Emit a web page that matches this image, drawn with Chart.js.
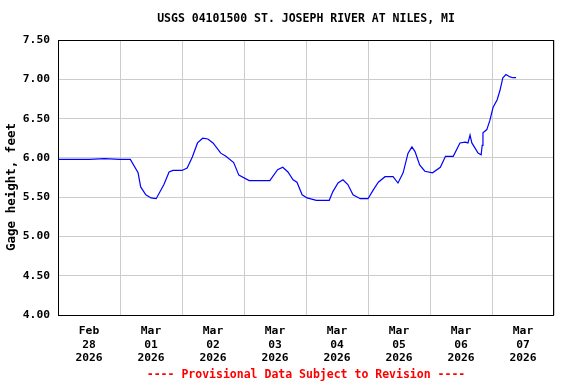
<!DOCTYPE html>
<html>
<head>
<meta charset="utf-8">
<script src="https://cdn.jsdelivr.net/npm/chart.js@4/dist/chart.umd.min.js"></script>
<style>
html,body{margin:0;padding:0;background:#fff;}
#wrap{width:576px;height:384px;position:relative;}
</style>
</head>
<body>
<div id="wrap"><canvas id="c" width="576" height="384"></canvas></div>
<script>
// Hours since 2026-02-28 00:00
const hours = [0, 12, 18, 24, 28, 31, 32, 34, 36, 38, 41, 43, 44.5, 48, 50, 52, 54, 56, 58, 60,
  63, 65, 68, 70, 74, 82, 85, 87, 89, 91, 92.5, 94.5, 96.4, 100, 105, 106.4, 108.4, 110.3, 112.2, 114.2,
  117, 120, 122, 124, 126.6, 129.7, 131.6, 133.6, 135.5, 137, 138.2, 140, 142, 145, 148, 150, 153, 155.6,
  157.6, 158.7, 159.5, 160.2, 162.6, 163.8, 164.2, 164.5, 166, 167.2, 168.4, 170, 171.1, 172.2, 173.4, 175, 176.1, 177.3];
const gageHeight = [5.98, 5.98, 5.99, 5.98, 5.98, 5.81, 5.63, 5.53, 5.49, 5.48, 5.66, 5.82, 5.84, 5.84, 5.87, 6.01, 6.19, 6.25, 6.24, 6.19,
  6.06, 6.02, 5.94, 5.78, 5.71, 5.71, 5.85, 5.88, 5.82, 5.72, 5.69, 5.53, 5.49, 5.46, 5.46, 5.57, 5.68, 5.72, 5.66, 5.53,
  5.48, 5.48, 5.59, 5.69, 5.76, 5.76, 5.68, 5.81, 6.06, 6.14, 6.08, 5.91, 5.83, 5.81, 5.88, 6.02, 6.02, 6.19,
  6.20, 6.19, 6.29, 6.19, 6.06, 6.04, 6.16, 6.32, 6.36, 6.48, 6.64, 6.74, 6.86, 7.02, 7.06, 7.03, 7.02, 7.02];
const tickMonths = ['Feb', 'Mar', 'Mar', 'Mar', 'Mar', 'Mar', 'Mar', 'Mar'];
const tickDays = ['28', '01', '02', '03', '04', '05', '06', '07'];
const tickYears = ['2026', '2026', '2026', '2026', '2026', '2026', '2026', '2026'];
const yTicks = [4.00, 4.50, 5.00, 5.50, 6.00, 6.50, 7.00, 7.50];
const titleText = 'USGS 04101500 ST. JOSEPH RIVER AT NILES, MI';
const footerText = '---- Provisional Data Subject to Revision ----';
const yTitle = 'Gage height, feet';

const FONT = '"DejaVu Sans Mono", "Liberation Mono", monospace';

const points = hours.map((h, i) => ({x: h, y: gageHeight[i]}));

const framePlugin = {
  id: 'frame',
  afterDraw(chart) {
    const ctx = chart.ctx, ca = chart.chartArea;
    ctx.save();
    ctx.strokeStyle = '#000';
    ctx.lineWidth = 1;
    ctx.strokeRect(Math.round(ca.left) + 0.5, Math.round(ca.top) + 0.5,
      Math.round(ca.right - ca.left) - 1, Math.round(ca.bottom - ca.top));
    const cx = (ca.left + ca.right) / 2;
    ctx.textAlign = 'center';
    ctx.textBaseline = 'middle';
    ctx.font = 'bold 11.5px ' + FONT;
    ctx.fillStyle = '#000';
    ctx.fillText(titleText, cx, 19);
    ctx.fillStyle = '#ff0000';
    ctx.fillText(footerText, cx, 375);
    ctx.save();
    ctx.translate(12, 187);
    ctx.rotate(-Math.PI / 2);
    ctx.fillStyle = '#000';
    ctx.font = 'bold 12.5px ' + FONT;
    ctx.fillText(yTitle, 0, 0);
    ctx.restore();
    ctx.restore();
  }
};

new Chart(document.getElementById('c'), {
  type: 'line',
  data: {
    datasets: [{
      data: points,
      borderColor: '#0000ff',
      borderWidth: 1.2,
      pointRadius: 0,
      tension: 0,
      fill: false
    }]
  },
  options: {
    responsive: false,
    animation: false,
    devicePixelRatio: 1,
    layout: {padding: {top: 40, right: 22, left: 0, bottom: 0}},
    plugins: {legend: {display: false}, tooltip: {enabled: false}, title: {display: false}},
    scales: {
      x: {
        type: 'linear',
        min: 0,
        max: 192,
        afterBuildTicks(axis) {
          const t = [];
          for (let i = 0; i <= 16; i++) t.push({value: i * 12});
          axis.ticks = t;
        },
        afterFit(axis) { axis.height = 69; },
        ticks: {
          autoSkip: false,
          maxRotation: 0,
          minRotation: 0,
          padding: 10,
          color: '#000',
          font: {family: FONT, size: 11.3, weight: 'bold', lineHeight: 1.16},
          callback(v) {
            if (v % 24 === 12) {
              const k = Math.floor(v / 24);
              return [tickMonths[k], tickDays[k], tickYears[k]];
            }
            return '';
          }
        },
        grid: {
          drawTicks: false,
          lineWidth: 1,
          color(ctx) {
            return (ctx.tick && ctx.tick.value % 24 === 0) ? '#cccccc' : 'rgba(0,0,0,0)';
          }
        },
        border: {display: false}
      },
      y: {
        type: 'linear',
        min: 4,
        max: 7.5,
        afterBuildTicks(axis) { axis.ticks = yTicks.map(v => ({value: v})); },
        afterFit(axis) { axis.width = 58; },
        ticks: {
          padding: 8,
          color: '#000',
          font: {family: FONT, size: 11.3, weight: 'bold'},
          callback(v) { return Number(v).toFixed(2); }
        },
        grid: {drawTicks: false, color: '#cccccc', lineWidth: 1},
        border: {display: false},
        title: {display: false}
      }
    }
  },
  plugins: [framePlugin]
});
</script>
</body>
</html>
